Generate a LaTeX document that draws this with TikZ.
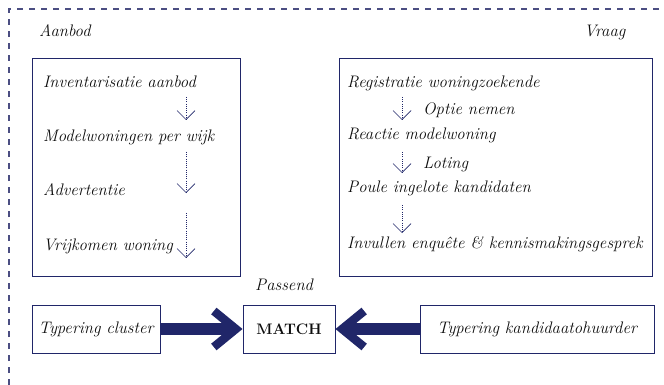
\documentclass[tikz,border=0pt]{standalone}
\usepackage{tikz}
\usetikzlibrary{arrows.meta, positioning}
\definecolor{navy}{RGB}{32,38,105}
\definecolor{framegray}{RGB}{75,78,130}

\begin{document}
\begin{tikzpicture}[
  x=1pt, y=-1pt,
  every node/.style={font=\fontsize{16.7}{19}\selectfont\itshape, text=black!95, inner sep=0pt},
  panel/.style={draw=navy, line width=0.9pt, anchor=north west},
  item/.style={anchor=base west},
  tagbox/.style={draw=navy, line width=0.9pt, minimum height=48pt},
  flow/.style={draw=navy, line width=0.6pt, dash pattern=on 1pt off 1.2pt,
               -{Straight Barb[length=9pt, width=18pt, line width=0.7pt]}},
  bigarrow/.style={draw=navy, line width=12pt,
                   -{Straight Barb[length=22pt, width=36pt, line width=8.5pt]}}
]
\useasboundingbox (0,0) rectangle (664,385);

% frame
\draw[framegray, line width=1.1pt, dash pattern=on 6pt off 6pt] (9,385) -- (9,9) -- (664,9);

\node[item] (aanbod) at (39,37) {Aanbod};
\node[item] (vraag) at (584,37) {Vraag};

% panels
\node[panel, minimum width=208pt, minimum height=218pt] (aanbodbox) at (32,58) {};
\node[panel, minimum width=313pt, minimum height=218pt] (vraagbox) at (339,58) {};

% aanbod
\node[item] (inv) at (43,88) {Inventarisatie aanbod};
\node[item] (model) at (43,142) {Modelwoningen per wijk};
\node[item] (adv) at (43,195) {Advertentie};
\node[item] (vrij) at (43,250) {Vrijkomen woning};

\coordinate (a1) at (186,97);  \coordinate (a2) at (186,120);
\coordinate (a3) at (186,152); \coordinate (a4) at (186,193);
\coordinate (a5) at (186,213); \coordinate (a6) at (186,258);
\draw[flow] (a1) -- (a2);
\draw[flow] (a3) -- (a4);
\draw[flow] (a5) -- (a6);

% vraag
\node[item] (reg) at (347,88) {Registratie woningzoekende};
\node[item] (optie) at (423,115) {Optie nemen};
\node[item] (reac) at (347,140) {Reactie modelwoning};
\node[item] (lot) at (423,168) {Loting};
\node[item] (poule) at (347,192) {Poule ingelote kandidaten};
\node[item] (enq) at (347,248) {Invullen enquête \& kennismakingsgesprek};

\coordinate (b1) at (402,97);  \coordinate (b2) at (402,120);
\coordinate (b3) at (402,152); \coordinate (b4) at (402,173);
\coordinate (b5) at (402,205); \coordinate (b6) at (402,233);
\draw[flow] (b1) -- (b2);
\draw[flow] (b3) -- (b4);
\draw[flow] (b5) -- (b6);

% match row
\node[tagbox, minimum width=128pt] (cluster) at (96,329) {Typering cluster};
\node[tagbox, minimum width=92pt, font=\fontsize{15.2}{18}\selectfont\bfseries] (match) at (289,329) {MATCH};
\node[tagbox, minimum width=234pt] (kand) at (537,329) {Typering kandidaatohuurder};
\node[item] (passend) at (255,290) {Passend};

\draw[bigarrow] (cluster) -- (match);
\draw[bigarrow] (kand) -- (match);

\end{tikzpicture}
\end{document}
